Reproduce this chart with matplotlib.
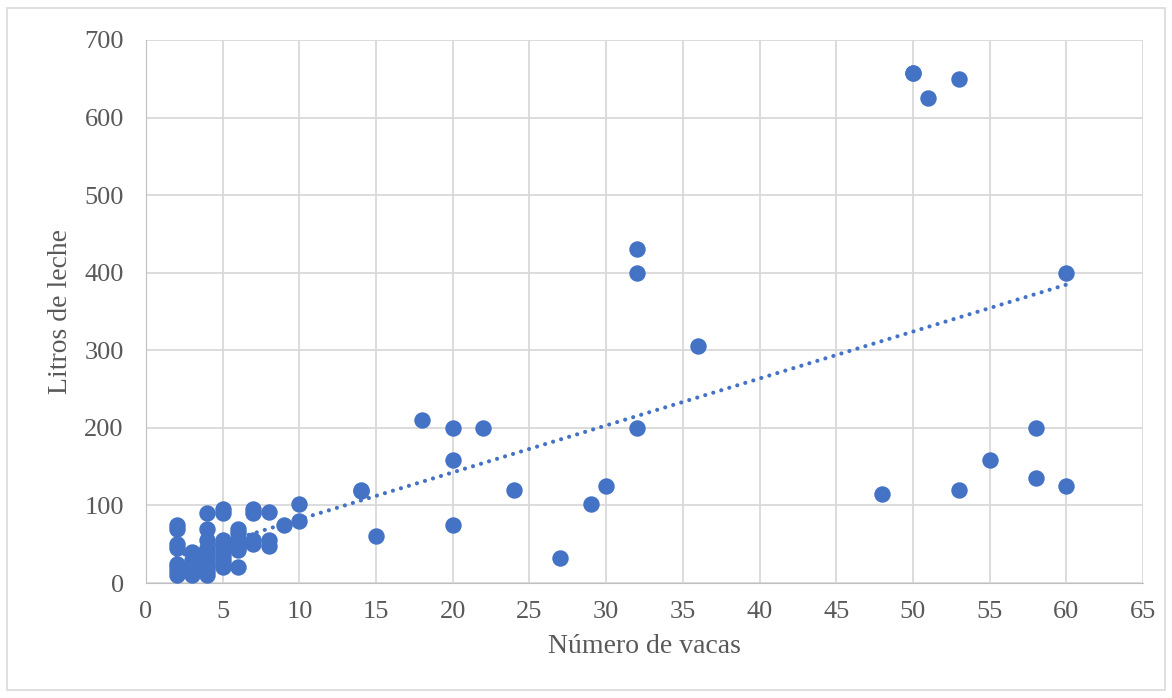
import numpy as np
import matplotlib
matplotlib.use("Agg")
import matplotlib.pyplot as plt
from matplotlib.patches import Rectangle

# number of cows per farm and litres of milk
vacas = [2, 2, 2, 2, 2, 2, 2, 2,
         3, 3, 3, 3, 3, 3,
         4, 4, 4, 4, 4, 4, 4, 4, 4, 4, 4,
         5, 5, 5, 5, 5, 5, 5, 5, 5, 5,
         6, 6, 6, 6, 6, 6, 6,
         7, 7, 7, 7,
         8, 8, 8,
         9,
         10, 10,
         14, 14,
         15,
         18,
         20, 20, 20,
         22, 24, 27, 29, 30,
         32, 32, 32,
         36, 48, 50, 50, 51,
         53, 53,
         55,
         58, 58,
         60, 60]
litros = [75, 70, 50, 45, 25, 20, 15, 10,
          40, 30, 25, 20, 15, 10,
          90, 70, 55, 45, 40, 35, 30, 25, 20, 15, 10,
          95, 90, 55, 50, 45, 40, 35, 30, 25, 20,
          70, 65, 55, 50, 45, 42, 20,
          95, 90, 55, 50,
          92, 55, 48,
          75,
          102, 80,
          120, 119,
          60,
          210,
          200, 158, 75,
          200, 120, 32, 102, 125,
          430, 400, 200,
          306, 115, 658, 658, 625,
          650, 120,
          158,
          200, 135,
          400, 125]

azul = "#4472C4"
gris = "#595959"
plt.rcParams['font.family'] = ['Liberation Serif', 'DejaVu Serif']

fig = plt.figure(figsize=(11.72, 6.98), dpi=100)
ax = fig.add_axes([146 / 1172, 1 - 583 / 698, (1143 - 146) / 1172, (583 - 40) / 698])

# outer chart border
fig.patches.append(Rectangle((7 / 1172, 8 / 698), 1158 / 1172, 682 / 698, transform=fig.transFigure,
                             fill=False, edgecolor="#D9D9D9", linewidth=1.2))

ax.scatter(vacas, litros, s=140, color=azul, zorder=3, linewidths=0)

# linear trendline (dotted)
m, b = np.polyfit(vacas, litros, 1)
xs = np.array([min(vacas), max(vacas)])
ax.plot(xs, m * xs + b, linestyle=(0, (0.01, 2.0)), color=azul, linewidth=3,
        dash_capstyle="round", zorder=2)

ax.set_xlim(0, 65)
ax.set_ylim(0, 700)
ax.set_xticks(range(0, 66, 5))
ax.set_yticks(range(0, 701, 100))
ax.grid(True, color="#D9D9D9", linewidth=1.3)
ax.set_axisbelow(True)
for s in ax.spines.values():
    s.set_visible(False)
ax.spines['left'].set_visible(True)
ax.spines['left'].set_color("#BFBFBF")
ax.spines['bottom'].set_visible(True)
ax.spines['bottom'].set_color("#BFBFBF")
ax.tick_params(length=0, labelsize=19, colors=gris)
ax.tick_params(axis='x', pad=13)
ax.tick_params(axis='y', pad=16)

ax.set_xlabel("Número de vacas", fontsize=20, color=gris, labelpad=8)
ax.set_ylabel("Litros de leche", fontsize=20, color=gris, labelpad=8)

fig.savefig("out.png", dpi=100)
